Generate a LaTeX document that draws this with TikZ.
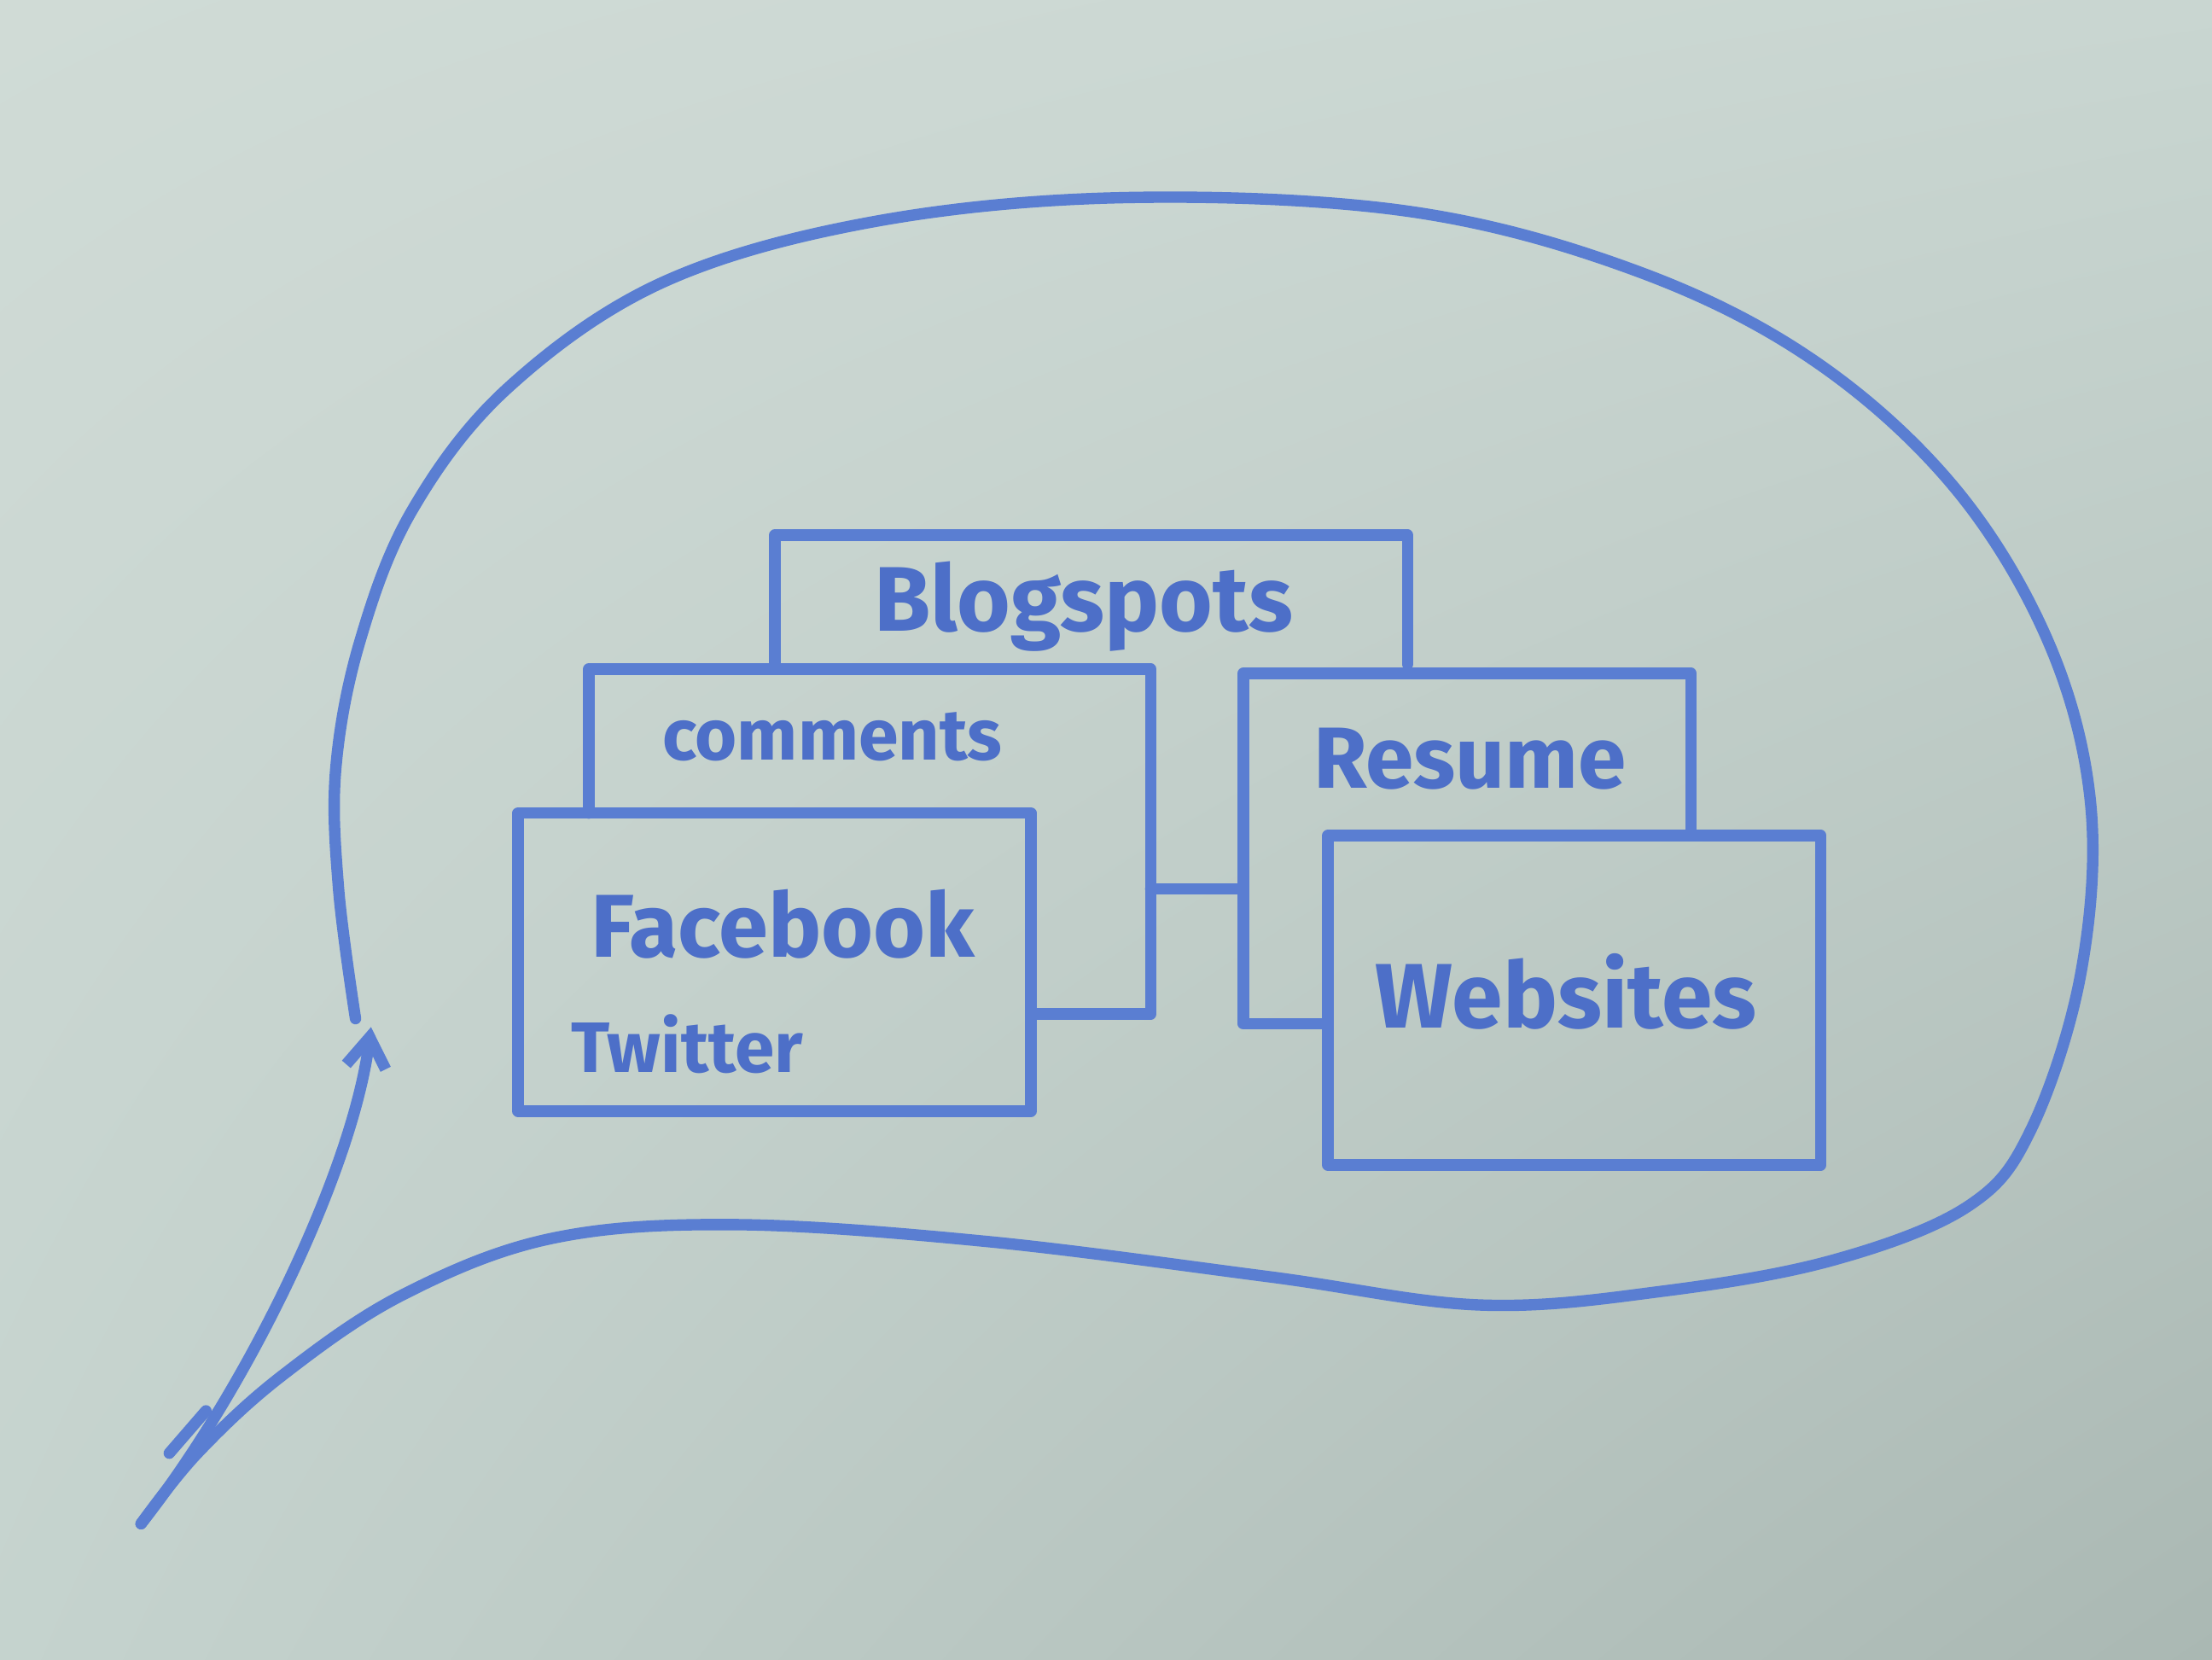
\documentclass[tikz,border=0pt]{standalone}
\usepackage{fontspec}
\setmainfont{Fira Sans}
\usetikzlibrary{arrows.meta,calc,shadings}
\definecolor{ink}{HTML}{5A7ED2}
\definecolor{inktext}{HTML}{4D6FC8}
\definecolor{bgTL}{HTML}{D0DBD6}
\definecolor{bgTR}{HTML}{C9D6D1}
\definecolor{bgBL}{HTML}{C5D3CE}
\definecolor{bgBR}{HTML}{AAB8B3}
\tikzset{
  pen/.style={draw=ink, line width=2.3pt, line cap=round, line join=round},
  boxarea/.style={rectangle, inner sep=0pt, draw=none},
  txt/.style={text=inktext, inner sep=0pt}
}
\begin{document}
\begin{tikzpicture}[x=0.1mm, y=-0.1mm]
\shade[upper left=bgTL, upper right=bgTR, lower left=bgBL, lower right=bgBR] (0,0) rectangle (1568,1176);
\useasboundingbox (0,0) rectangle (1568,1176);

% speech bubble outline
\draw[pen] plot[smooth, tension=0.6] coordinates {
 (252,722) (240,630) (238,545) (255,455) (292,362) (360,275) (470,200) (620,157) (800,140)
 (1000,150) (1160,192) (1285,255) (1385,345) (1452,455) (1482,570) (1475,690) (1440,800)
 (1395,855) (1300,893) (1180,915) (1050,925) (900,905) (700,880) (520,868) (390,878)
 (285,918) (200,975) (140,1030) (100,1080)};
% tail line with arrowhead
\coordinate (tailstart) at (100,1080);
\coordinate (tailend) at (263,728);
\draw[pen, -{Straight Barb[length=6pt,width=8pt]}] (tailstart) .. controls (175,985) and (250,830) .. (tailend);
\draw[pen] (120,1030) -- (146,1000);

% boxes (areas)
\node[boxarea, minimum width=44.7mm, minimum height=9mm] (blog) at (773.5,425) {};
\node[boxarea, minimum width=39.7mm, minimum height=24.3mm] (comm) at (616.5,596.5) {};
\node[boxarea, minimum width=36.2mm, minimum height=21mm] (fb) at (549,682) {};
\node[boxarea, minimum width=31.6mm, minimum height=24.7mm] (res) at (1040,601.5) {};
\node[boxarea, minimum width=34.8mm, minimum height=23.2mm] (web) at (1116,709) {};

% Blogspots: bottom hidden
\draw[pen] (blog.south west) -- (blog.north west) -- (blog.north east) -- (blog.south east);
% comments: partly behind Facebook
\draw[pen] (comm.west |- fb.north) -- (comm.north west) -- (comm.north east) -- (comm.south east) -- (comm.south -| fb.east);
\draw[pen] (fb.north west) rectangle (fb.south east);
% Resume: partly behind Websites
\draw[pen] (res.south -| web.west) -- (res.south west) -- (res.north west) -- (res.north east) -- (res.east |- web.north);
\draw[pen] (web.north west) rectangle (web.south east);

% connector
\coordinate (connrow) at (0,630);
\draw[pen] (comm.east |- connrow) -- (res.west |- connrow);

% texts
\node[txt, font=\bfseries\fontsize{18.5}{22}\selectfont] (tblog) at (768,430) {Blogspots};
\node[txt, font=\bfseries\fontsize{14.5}{18}\selectfont] (tcomm) at (590,522) {comments};
\node[txt, font=\bfseries\fontsize{18}{22}\selectfont] (tfb) at (555,655) {Facebook};
\node[txt, font=\bfseries\fontsize{14.4}{18}\selectfont] (ttw) at (487,740) {Twitter};
\node[txt, font=\bfseries\fontsize{17.5}{21}\selectfont] (tres) at (1042,538) {Resume};
\node[txt, font=\bfseries\fontsize{18.5}{22}\selectfont] (tweb) at (1110,703) {Websites};
\end{tikzpicture}
\end{document}
